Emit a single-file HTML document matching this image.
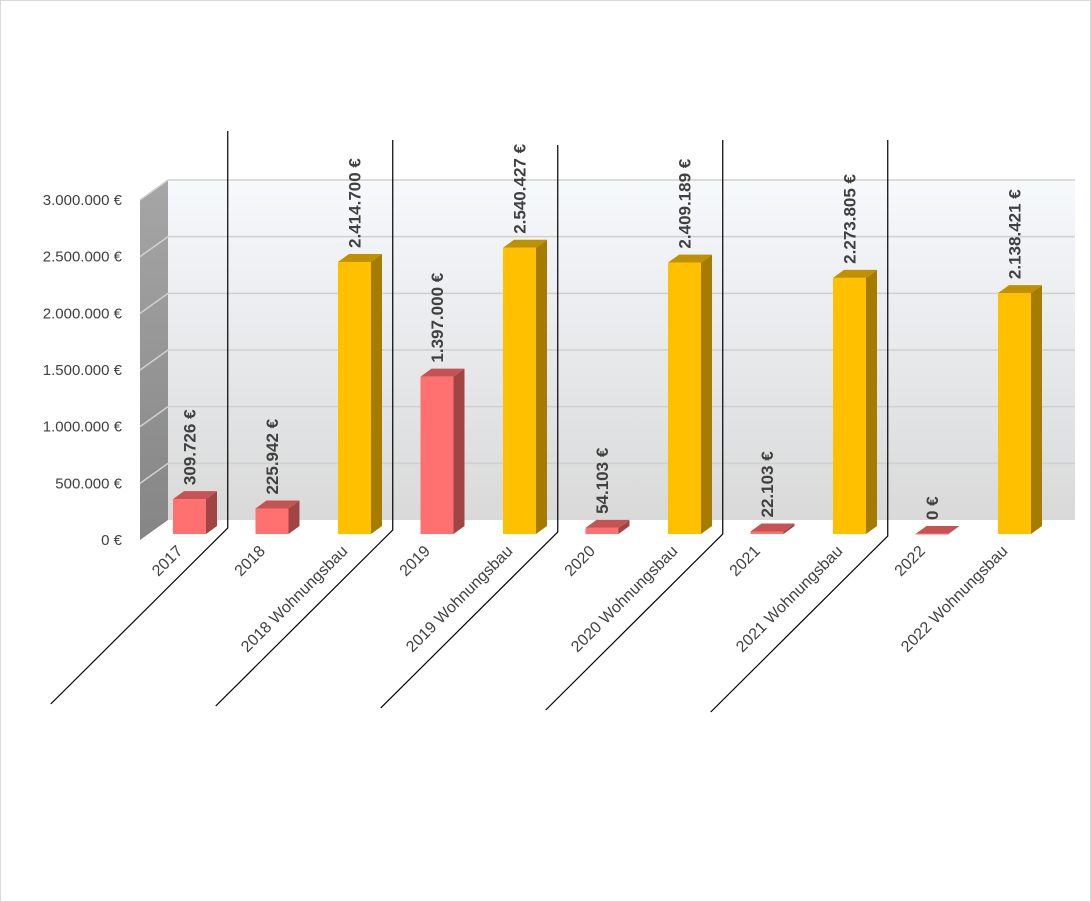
<!DOCTYPE html>
<html><head><meta charset="utf-8"><style>
html,body{margin:0;padding:0;background:#fff}
svg{display:block;font-family:"Liberation Sans",sans-serif}
</style></head><body>
<svg id="chart" width="1091" height="902" viewBox="0 0 1091 902" xmlns="http://www.w3.org/2000/svg">
<defs>
<linearGradient id="wall" x1="0" y1="0" x2="0" y2="1"><stop offset="0" stop-color="#f6f9fd"/><stop offset="1" stop-color="#d9d9d9"/></linearGradient>
<linearGradient id="side" x1="0" y1="0" x2="0" y2="1"><stop offset="0" stop-color="#a6a6a6"/><stop offset="1" stop-color="#858585"/></linearGradient>
</defs>
<rect x="0.5" y="0.5" width="1090" height="901" fill="#fff" stroke="#d9d9d9"/>
<rect x="168" y="180" width="907" height="340" fill="url(#wall)"/>
<polygon points="140,200 168,180 168,520 140,540" fill="url(#side)"/>
<g id="grid"></g><g id="yticks"></g><g id="seps"></g><g id="bars"></g><g id="labels"></g><g id="xlabels"></g>
</svg>
<script>
const categories=["2017","2018","2018 Wohnungsbau","2019","2019 Wohnungsbau","2020","2020 Wohnungsbau","2021","2021 Wohnungsbau","2022","2022 Wohnungsbau"];
const values=[309726,225942,2414700,1397000,2540427,54103,2409189,22103,2273805,0,2138421];
const valueLabels=["309.726 €","225.942 €","2.414.700 €","1.397.000 €","2.540.427 €","54.103 €","2.409.189 €","22.103 €","2.273.805 €","0 €","2.138.421 €"];
const kinds=["r","r","y","r","y","r","y","r","y","r","y"];
const tickValues=[0,500000,1000000,1500000,2000000,2500000,3000000];
const tickLabels=["0 €","500.000 €","1.000.000 €","1.500.000 €","2.000.000 €","2.500.000 €","3.000.000 €"];
const separatorsAfter=[0,2,4,6,8];
const NS="http://www.w3.org/2000/svg";
function mk(t,a,p){const e=document.createElementNS(NS,t);for(const k in a)e.setAttribute(k,a[k]);p.appendChild(e);return e;}
const yMax=3000000, frontBase=534, backBase=520, plotH=340;
function yFront(v){return frontBase-v/yMax*338;}
function yBack(v){return backBase-v/yMax*plotH;}
function xBar(i){return 173+i*82.5;}
const BW=33, DX=11, DY=8;
const grid=document.getElementById('grid'), yt=document.getElementById('yticks');
tickValues.forEach((v,i)=>{
  const y=yBack(v);
  if(v>0){const l=mk('polyline',{points:`140,${y+20} 168,${y} 1075,${y}`,fill:'none',stroke:'#d0d0d0','stroke-width':1.5},grid);
  
  }
  const t=mk('text',{x:122,y:y+25,'text-anchor':'end','font-size':15,fill:'#404040'},yt);
  t.textContent=tickLabels[i];
  
  
});
const seps=document.getElementById('seps');
const sepTops=[131,140,145,140,140];
separatorsAfter.forEach((c,k)=>{
  const x=(xBar(c)+xBar(c+1)+BW)/2-3; const yb=528+k*2;
  const l=mk('polyline',{points:`${x},${sepTops[k]} ${x},${yb} ${x-177},${yb+176}`,fill:'none',stroke:'#000','stroke-width':1.2},seps);
  
  
});
const bars=document.getElementById('bars'), labs=document.getElementById('labels'), xl=document.getElementById('xlabels');
const col={r:['#ff7171','#c55353','#a04444'],y:['#ffc000','#bf9000','#a67c00']};
values.forEach((v,i)=>{
  const x=xBar(i), yt2=yFront(v), c=col[kinds[i]];
  const g=mk('g',{},bars);
  
  
  mk('polygon',{points:`${x+BW},${yt2} ${x+BW+DX},${yt2-DY} ${x+BW+DX},${frontBase-DY} ${x+BW},${frontBase}`,fill:c[2]},g);
  mk('polygon',{points:`${x},${yt2} ${x+DX},${yt2-DY} ${x+BW+DX},${yt2-DY} ${x+BW},${yt2}`,fill:c[1]},g);
  if(v>0) mk('rect',{x:x,y:yt2,width:BW,height:frontBase-yt2,fill:c[0]},g);
  else mk('line',{x1:x,y1:frontBase,x2:x+BW,y2:frontBase,stroke:c[0],'stroke-width':1},g);
  const cx=x+BW/2+6, ty=yt2-DY-6;
  const t=mk('text',{x:cx,y:ty,transform:`rotate(-90 ${cx} ${ty})`,'font-size':17,'font-weight':'bold',fill:'#404040'},labs);
  t.textContent=valueLabels[i];
  
  
  const lx=x+BW/2-6, ly=552;
  const a=mk('text',{x:lx,y:ly,transform:`rotate(-45 ${lx} ${ly})`,'text-anchor':'end','font-size':16,fill:'#404040'},xl);
  a.textContent=categories[i];
  
  
});
</script>
</body></html>
